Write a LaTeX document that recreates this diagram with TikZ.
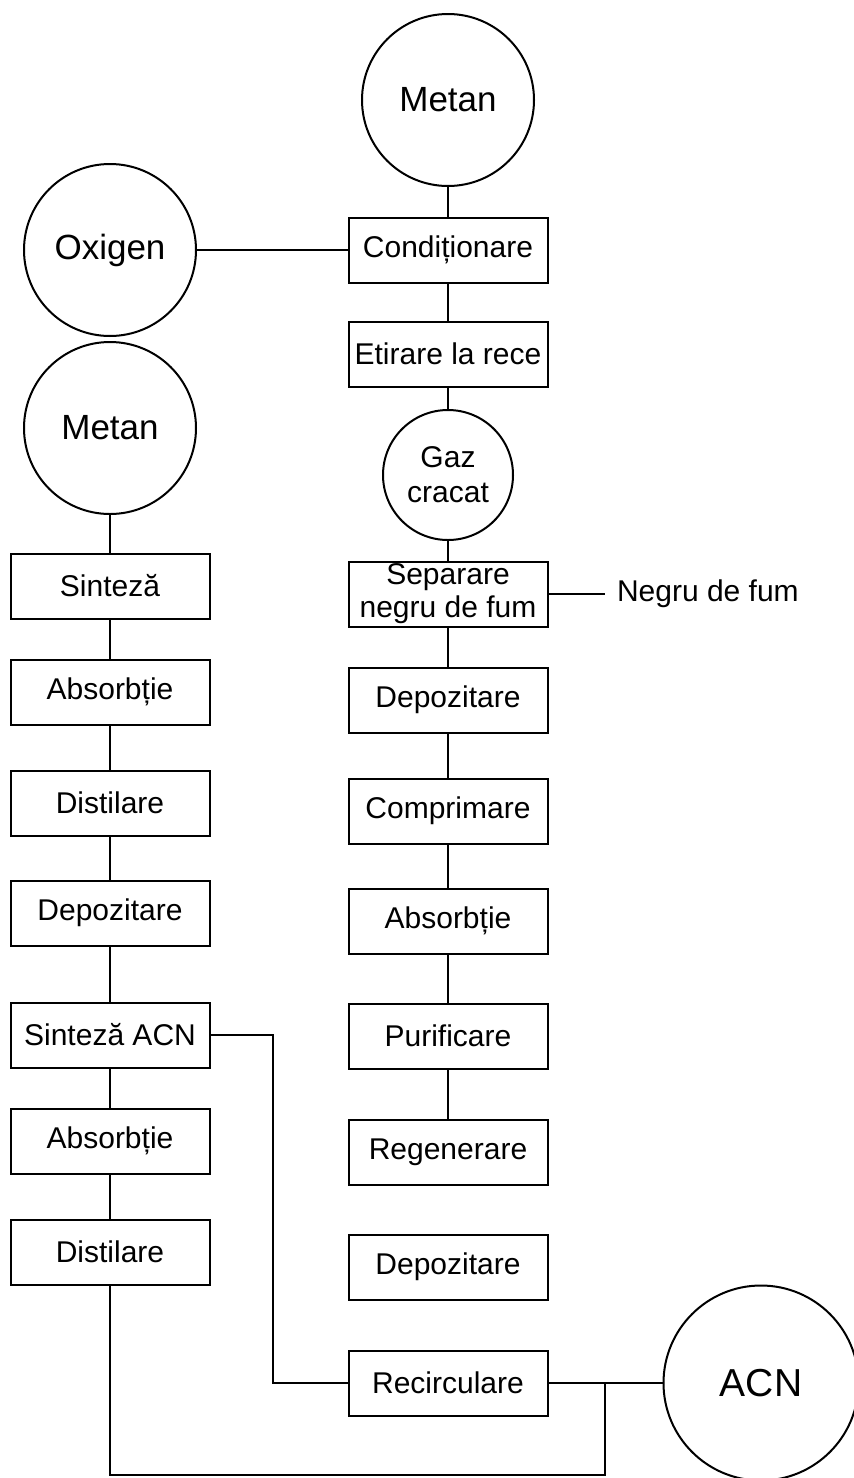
\documentclass[tikz,border=0pt]{standalone}
\usepackage{fontspec}
\setmainfont{Liberation Sans}
\begin{document}
\begin{tikzpicture}[x=1pt,y=-1pt,line width=2pt,
  procbox/.style={draw,minimum width=199pt,minimum height=65pt,inner sep=0pt,
    align=center,font=\fontsize{30}{33}\selectfont},
  feed/.style={draw,circle,minimum size=172pt,inner sep=0pt,
    font=\fontsize{35}{38}\selectfont}]
\useasboundingbox (0,0) rectangle (854,1478);
% right column
\node[feed] (metanA) at (448,100) {Metan};
\node[procbox] (cond) at (448,250) {Condiționare};
\node[procbox] (etir) at (448,354) {Etirare la rece};
\node[draw,circle,minimum size=130pt,inner sep=0pt,align=center,
  font=\fontsize{30}{35}\selectfont] (gaz) at (448,475) {Gaz\\cracat};
\node[procbox] (sep) at (448,594) {Separare\\negru de fum};
\node[anchor=west,inner sep=11pt,font=\fontsize{30}{33}\selectfont] (negru) at (605,594) {Negru de fum};
\node[procbox] (depA) at (448,700) {Depozitare};
\node[procbox] (comp) at (448,811) {Comprimare};
\node[procbox] (absA) at (448,921) {Absorbție};
\node[procbox] (pur) at (448,1036) {Purificare};
\node[procbox] (regen) at (448,1152) {Regenerare};
\node[procbox] (depB) at (448,1267) {Depozitare};
\node[procbox] (recirc) at (448,1383) {Recirculare};
\node[feed,minimum size=195pt,font=\fontsize{39}{42}\selectfont] (acn) at (761,1383) {ACN};
% left column
\node[feed] (oxi) at (110,250) {Oxigen};
\node[feed] (metanB) at (110,428) {Metan};
\node[procbox] (sint) at (110,586) {Sinteză};
\node[procbox] (absB) at (110,692) {Absorbție};
\node[procbox] (distA) at (110,803) {Distilare};
\node[procbox] (depC) at (110,913) {Depozitare};
\node[procbox] (sintacn) at (110,1035) {Sinteză ACN};
\node[procbox] (absC) at (110,1141) {Absorbție};
\node[procbox] (distB) at (110,1252) {Distilare};
\coordinate (bend) at (273,1383);
\coordinate (join) at (605,1383);
\coordinate (joinlow) at (605,1475);
% connectors
\draw (metanA) -- (cond) -- (etir) -- (gaz) -- (sep) -- (depA) -- (comp) -- (absA) -- (pur) -- (regen);
\draw (oxi) -- (cond);
\draw (sep) -- (negru);
\draw (metanB) -- (sint) -- (absB) -- (distA) -- (depC) -- (sintacn) -- (absC) -- (distB);
\draw (sintacn) -| (bend) -- (recirc);
\draw (recirc) -- (acn);
\draw (distB) |- (joinlow) -- (join);
\end{tikzpicture}
\end{document}
